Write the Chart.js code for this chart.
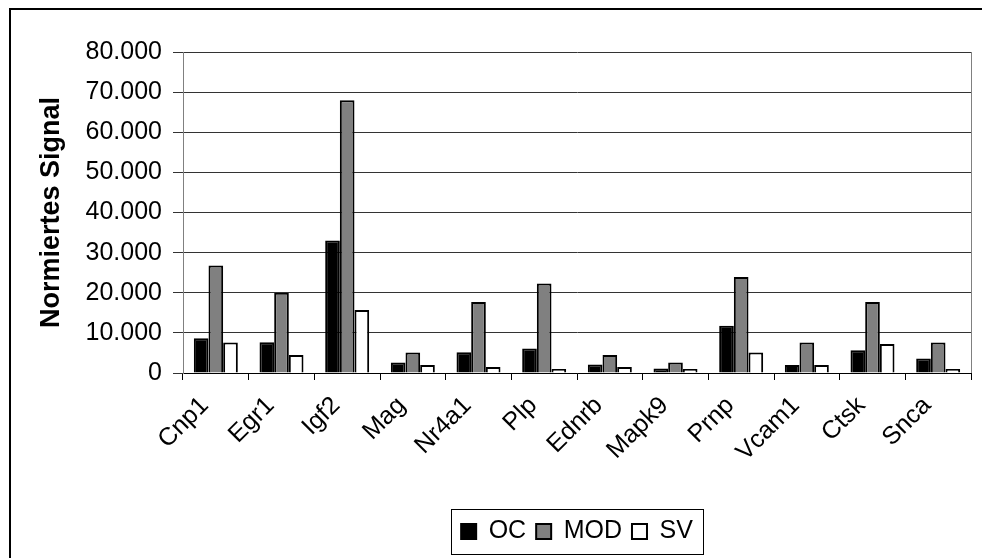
<!DOCTYPE html>
<html>
<head>
<meta charset="utf-8">
<script src="https://cdn.jsdelivr.net/npm/chart.js@4"></script>
<style>
  html, body { margin: 0; padding: 0; background: #fff; }
  #wrap { width: 982px; height: 558px; }
</style>
</head>
<body>
<div id="wrap"><canvas id="chart"></canvas></div>
<script>
// Gene names on the x axis
const genes = ['Cnp1', 'Egr1', 'Igf2', 'Mag', 'Nr4a1', 'Plp', 'Ednrb', 'Mapk9', 'Prnp', 'Vcam1', 'Ctsk', 'Snca'];

// Normalized signal per group
const ocValues  = [8650, 7650, 33000, 2600, 5200, 6100, 2100, 1100, 11800, 2000, 5700, 3600];
const modValues = [26800, 20000, 68000, 5100, 17700, 22300, 4500, 2600, 23900, 7600, 17700, 7600];
const svValues  = [7600, 4500, 15700, 2000, 1500, 1000, 1500, 1000, 5100, 2000, 7200, 1000];

const yMin = 0;
const yMax = 80000;
const yStep = 10000;

const fontFamily = '"Liberation Sans", Arial, sans-serif';

// German style thousands separator: 80000 -> 80.000
function formatTick(v) {
    return String(v).replace(/\B(?=(\d{3})+(?!\d))/g, '.');
}

// Draws the outer frame, the right edge of the plot and the box round the legend
const framePlugin = {
    id: 'frames',
    afterDraw(chart) {
        const ctx = chart.ctx;
        const area = chart.chartArea;
        ctx.save();

        ctx.strokeStyle = '#808080';
        ctx.lineWidth = 1;
        ctx.beginPath();
        ctx.moveTo(area.right + 0.5, area.top);
        ctx.lineTo(area.right + 0.5, area.bottom);
        ctx.stroke();

        const boxes = chart.legend.legendHitBoxes;
        if (boxes && boxes.length) {
            const left = Math.min(...boxes.map(b => b.left)) - 10;
            const right = Math.max(...boxes.map(b => b.left + b.width)) + 10;
            const top = chart.legend.top;
            const bottom = chart.legend.bottom;
            ctx.strokeStyle = '#000';
            ctx.lineWidth = 1;
            ctx.strokeRect(Math.round(left) + 0.5, Math.round(top) + 0.5, Math.round(right - left), Math.round(bottom - top));
        }

        ctx.strokeStyle = '#000';
        ctx.lineWidth = 2;
        ctx.strokeRect(10, 9, chart.width + 20, chart.height + 20);
        ctx.restore();
    }
};

const ctx = document.getElementById('chart').getContext('2d');
new Chart(ctx, {
    type: 'bar',
    data: {
        labels: genes,
        datasets: [
            { label: 'OC', data: ocValues, backgroundColor: '#000000', borderColor: '#000000', borderWidth: 2 },
            { label: 'MOD', data: modValues, backgroundColor: '#808080', borderColor: '#000000', borderWidth: 2 },
            { label: 'SV', data: svValues, backgroundColor: '#ffffff', borderColor: '#000000', borderWidth: 2 }
        ]
    },
    options: {
        responsive: true,
        maintainAspectRatio: false,
        animation: false,
        devicePixelRatio: 1,
        categoryPercentage: 0.67,
        barPercentage: 1.0,
        layout: {
            padding: { left: 0, right: 11, top: 52, bottom: 4 }
        },
        scales: {
            x: {
                afterFit: scale => { scale.height = 136; },
                grid: {
                    drawOnChartArea: false,
                    drawTicks: true,
                    tickLength: 7,
                    color: '#000',
                    offset: true
                },
                border: { color: '#000', width: 1 },
                ticks: {
                    color: '#000',
                    font: { family: fontFamily, size: 25 },
                    maxRotation: 45,
                    minRotation: 45,
                    padding: 11,
                    labelOffset: -11,
                    autoSkip: false
                }
            },
            y: {
                min: yMin,
                max: yMax,
                afterFit: scale => { scale.width = 183; },
                grid: {
                    color: '#333',
                    lineWidth: 1,
                    tickLength: 10
                },
                border: { color: '#808080', width: 1 },
                ticks: {
                    stepSize: yStep,
                    color: '#000',
                    padding: 11,
                    font: { family: fontFamily, size: 25 },
                    callback: v => formatTick(v)
                },
                title: {
                    display: true,
                    text: 'Normiertes Signal',
                    color: '#000',
                    font: { family: fontFamily, size: 27, weight: 'bold' },
                    padding: { top: 35, bottom: 0 }
                }
            }
        },
        plugins: {
            legend: {
                position: 'bottom',
                fullSize: false,
                labels: {
                    color: '#000',
                    font: { family: fontFamily, size: 25 },
                    boxWidth: 15,
                    boxHeight: 15,
                    padding: 10
                }
            },
            tooltip: { enabled: false }
        }
    },
    plugins: [framePlugin]
});
</script>
</body>
</html>
